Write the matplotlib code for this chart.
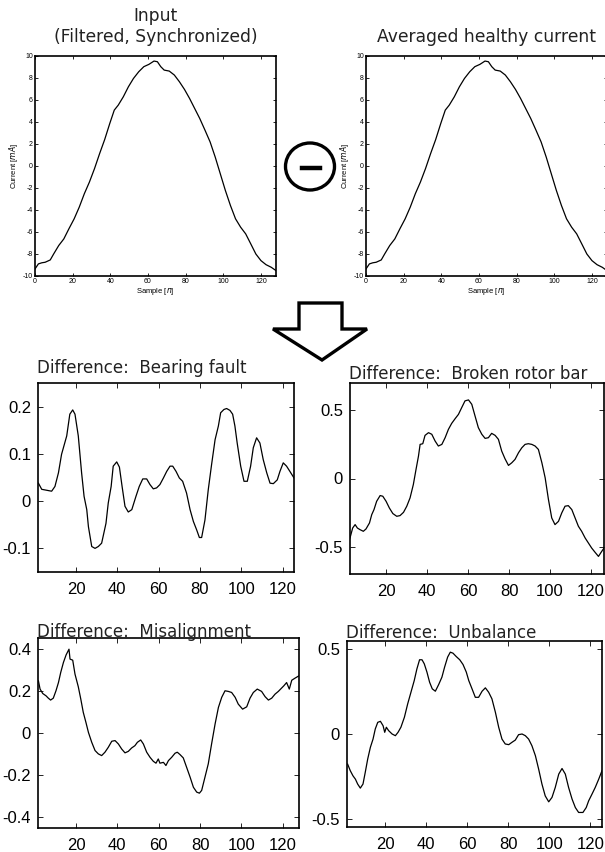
import matplotlib
matplotlib.use("Agg")
import matplotlib.pyplot as plt
from matplotlib.patches import Polygon, Ellipse
from matplotlib.lines import Line2D

# input / averaged healthy current
input_x = [0, 1.8, 3.6, 5.4, 8.1, 9.9, 12.6, 15.3, 18, 20.8, 23.5, 26.2, 28.9, 31.6, 34.3,
           37, 39.7, 42.1, 44.2, 46.9, 49.6, 52.3, 55.1, 57.8, 60.5, 63.2, 65, 66.8, 68.6,
           71.3, 74, 76.7, 79.4, 82.1, 84.8, 87.5, 90.3, 93, 95.7, 98.4, 101.1, 103.8,
           106.5, 109.2, 111.9, 114.6, 117.3, 120, 122.7, 125.5, 128]
input_y = [-9.36, -8.9, -8.8, -8.75, -8.54, -8.0, -7.23, -6.63, -5.71, -4.8, -3.74, -2.52,
           -1.46, -0.24, 1.12, 2.4, 3.86, 5.08, 5.53, 6.29, 7.2, 7.96, 8.57, 9.03, 9.24,
           9.54, 9.48, 9.03, 8.72, 8.63, 8.27, 7.66, 6.96, 6.14, 5.23, 4.32, 3.25, 2.19,
           0.82, -0.7, -2.22, -3.59, -4.8, -5.56, -6.17, -7.08, -8.0, -8.6, -8.97, -9.21,
           -9.51]
healthy_x = list(input_x)
healthy_y = list(input_y)

bearing_x = [1.8, 3.4, 5.8, 8.2, 9.8, 11.5, 13, 15.5, 17, 18.4, 19.5, 21.1, 22.7, 23.9, 25.2,
             26, 27.6, 29.2, 30.8, 32.4, 34.5, 35.6, 37, 38, 39.7, 41, 42.3, 43.7, 45.3, 47,
             49, 50.6, 52.3, 54.2, 55.8, 57.4, 59, 60.6, 62.3, 63.9, 65.5, 66.8, 68.4, 70,
             71.6, 73.5, 75.2, 76.8, 78.4, 79.7, 80.8, 82.4, 84, 85.6, 87.3, 88.9, 90, 91.6,
             92.9, 94.5, 95.8, 96.9, 98, 99.7, 101.3, 102.9, 104.5, 105.8, 107.4, 109, 110.6,
             112.3, 113.9, 115.5, 117.4, 118.7, 120.3, 121.9, 123.5, 125.5]
bearing_y = [0.038, 0.025, 0.023, 0.021, 0.031, 0.06, 0.099, 0.138, 0.184, 0.193, 0.184,
             0.138, 0.06, 0.01, -0.018, -0.054, -0.096, -0.1, -0.096, -0.089, -0.047,
             -0.004, 0.031, 0.074, 0.083, 0.072, 0.031, -0.011, -0.023, -0.018, 0.01,
             0.031, 0.047, 0.047, 0.035, 0.026, 0.028, 0.035, 0.049, 0.063, 0.074, 0.074,
             0.063, 0.049, 0.042, 0.017, -0.018, -0.043, -0.061, -0.077, -0.077, -0.04,
             0.024, 0.077, 0.13, 0.159, 0.187, 0.194, 0.196, 0.192, 0.184, 0.159, 0.123,
             0.074, 0.042, 0.042, 0.074, 0.113, 0.134, 0.123, 0.088, 0.06, 0.038, 0.037,
             0.045, 0.063, 0.081, 0.074, 0.063, 0.049]

rotor_x = [2.4, 3.7, 4.9, 6, 7.3, 8.9, 10.2, 11.9, 13, 14.1, 15.4, 17.1, 18.4, 20, 21.6,
           23.3, 25.2, 26.8, 28.5, 30.1, 31.7, 33.3, 34.6, 35.8, 36.6, 37.9, 39, 40.7,
           42.3, 43.9, 45.5, 47.2, 48.8, 50.4, 52, 53.7, 55.3, 56.9, 58.5, 60.2, 61.8,
           63.4, 65, 66.7, 68.3, 69.9, 71.5, 73.2, 74.8, 76.4, 78, 79.7, 81.3, 82.9, 84.6,
           86.2, 87.8, 89.4, 91.1, 92.7, 94.3, 96, 97.6, 99.2, 100.8, 102.4, 104.1, 105.7,
           107.3, 108.9, 110.6, 112.2, 113.8, 115.4, 117.1, 118.7, 120.3, 122, 123.6,
           125.2, 126.3]
rotor_y = [-0.436, -0.363, -0.338, -0.363, -0.375, -0.387, -0.37, -0.326, -0.265, -0.228,
           -0.167, -0.125, -0.13, -0.167, -0.216, -0.257, -0.277, -0.272, -0.248, -0.203,
           -0.142, -0.044, 0.066, 0.164, 0.25, 0.255, 0.316, 0.336, 0.324, 0.275, 0.238,
           0.25, 0.299, 0.36, 0.404, 0.439, 0.47, 0.52, 0.569, 0.576, 0.544, 0.458, 0.373,
           0.324, 0.294, 0.299, 0.331, 0.316, 0.287, 0.201, 0.145, 0.096, 0.115, 0.14,
           0.189, 0.225, 0.25, 0.255, 0.25, 0.238, 0.213, 0.115, 0.005, -0.154, -0.289,
           -0.338, -0.314, -0.252, -0.203, -0.199, -0.228, -0.289, -0.35, -0.387, -0.436,
           -0.473, -0.51, -0.542, -0.571, -0.534, -0.51]

misalign_x = [1.8, 2.6, 3.9, 5.5, 6.6, 7.7, 9, 10.3, 11.5, 12.6, 13.9, 15.2, 16.6, 17.1,
              18.4, 19.5, 21.1, 22.3, 23.5, 24.8, 26, 27.6, 29.2, 30.8, 32.4, 34, 35.6,
              37.3, 38.9, 40.5, 42.1, 43.7, 45.3, 46.9, 48.5, 49.7, 51.3, 52.6, 54.2, 55.8,
              57.4, 58.7, 59.8, 60.6, 62.3, 63.5, 64.7, 66.3, 67.9, 69, 70.3, 71.9, 73.5,
              75.2, 76.8, 78.4, 79.7, 80.8, 82.4, 84, 85.6, 87.3, 88.9, 90.5, 92.1, 93.7,
              95.3, 97, 98.5, 100.6, 102.6, 104.2, 105.8, 107.7, 109.8, 111.5, 113.1, 114.7,
              116.3, 117.9, 119.5, 120.6, 121.9, 123.2, 124.4, 126, 127.9]
misalign_y = [0.247, 0.208, 0.187, 0.176, 0.165, 0.156, 0.165, 0.2, 0.239, 0.287, 0.334,
              0.37, 0.397, 0.35, 0.345, 0.279, 0.219, 0.161, 0.098, 0.05, 0.003, -0.044,
              -0.083, -0.099, -0.107, -0.091, -0.068, -0.039, -0.036, -0.052, -0.076,
              -0.094, -0.087, -0.071, -0.06, -0.044, -0.033, -0.052, -0.091, -0.115, -0.134,
              -0.143, -0.123, -0.143, -0.139, -0.154, -0.131, -0.115, -0.096, -0.091, -0.102,
              -0.118, -0.162, -0.209, -0.257, -0.28, -0.285, -0.272, -0.209, -0.146, -0.052,
              0.043, 0.121, 0.169, 0.2, 0.197, 0.192, 0.169, 0.137, 0.113, 0.124, 0.165,
              0.192, 0.208, 0.197, 0.172, 0.156, 0.165, 0.184, 0.197, 0.213, 0.224, 0.239,
              0.208, 0.25, 0.26, 0.271]

unbalance_x = [1.6, 2.9, 4.2, 5.4, 6.5, 7.8, 9.1, 10.2, 11.4, 12.7, 14, 15.1, 16.3, 17.6,
               18.9, 19.7, 20.5, 21.6, 23.3, 24.9, 26.2, 27.6, 29.3, 30.9, 32.5, 34.1, 35.4,
               36.7, 37.9, 39, 40.3, 41.6, 42.9, 44.4, 46, 47.6, 48.9, 50.4, 51.7, 53, 54.6,
               56.3, 57.9, 59.5, 60.7, 62.3, 63.9, 65.5, 67.2, 68.8, 70.4, 72, 73.7, 75.3,
               76.9, 78.5, 80.2, 81.8, 83.4, 85, 86.7, 88.3, 89.9, 91.5, 93.2, 94.8, 96.4,
               98, 99.7, 101.3, 102.9, 104.6, 106.2, 107.8, 109.4, 111.1, 112.7, 114.3,
               116.4, 118, 119.2, 120.8, 122.4, 124.1, 125.7]
unbalance_y = [-0.178, -0.217, -0.247, -0.267, -0.296, -0.32, -0.296, -0.227, -0.148,
               -0.079, -0.03, 0.03, 0.069, 0.075, 0.049, 0.01, 0.04, 0.02, 0.0, -0.01, 0.01,
               0.04, 0.099, 0.178, 0.247, 0.316, 0.385, 0.439, 0.439, 0.415, 0.366, 0.306,
               0.267, 0.253, 0.292, 0.336, 0.395, 0.455, 0.484, 0.478, 0.458, 0.439, 0.411,
               0.366, 0.316, 0.267, 0.217, 0.217, 0.253, 0.273, 0.247, 0.208, 0.128, 0.04,
               -0.03, -0.059, -0.063, -0.049, -0.036, -0.004, 0.0, -0.01, -0.03, -0.069,
               -0.128, -0.208, -0.296, -0.366, -0.401, -0.375, -0.316, -0.237, -0.204,
               -0.237, -0.316, -0.385, -0.435, -0.464, -0.464, -0.435, -0.395, -0.356,
               -0.316, -0.267, -0.217]

W, H = 605, 852
fig = plt.figure(figsize=(W / 100, H / 100), dpi=100)


def px_axes(l, t, r, b):
    return fig.add_axes([l / W, 1 - b / H, (r - l) / W, (b - t) / H])


def fmt(v):
    return '%g' % v


TITLE_COLOR = '#222222'

# ---- top row: raw currents
top_ticks_y = list(range(-10, 11, 2))
for (l, r), x, y, title in [((35, 276), input_x, input_y, 'Input\n(Filtered, Synchronized)'),
                            ((366, 607), healthy_x, healthy_y, 'Averaged healthy current')]:
    ax = px_axes(l, 56, r, 276)
    ax.plot(x, y, color='black', lw=0.9)
    ax.set_xlim(0, 128)
    ax.set_ylim(-10, 10)
    ax.set_xticks(range(0, 121, 20))
    ax.set_yticks(top_ticks_y)
    ax.set_yticklabels([fmt(v) for v in top_ticks_y])
    ax.tick_params(direction='in', top=True, right=True, length=2.5, width=0.6,
                   labelsize=5, pad=1.5)
    for lab in ax.get_xticklabels() + ax.get_yticklabels():
        lab.set_family('Liberation Sans')
    ax.set_xlabel('Sample [$\\it{n}$]', fontsize=5.5, family='Liberation Sans', labelpad=1)
    ax.set_ylabel('Current [$\\it{mA}$]', fontsize=5.5, family='Liberation Sans', labelpad=2)
    ax.set_title(title, fontsize=12.3, family='DejaVu Sans', linespacing=1.2, pad=10,
                 color=TITLE_COLOR)
    for sp in ax.spines.values():
        sp.set_linewidth(1.2)

# ---- difference panels
panels = [
    ((38, 383, 294, 572), bearing_x, bearing_y, 'Difference:  Bearing fault',
     (1.6, 125.5), (-0.15, 0.25), [-0.1, 0, 0.1, 0.2], 7),
    ((350, 383, 604, 574), rotor_x, rotor_y, 'Difference:  Broken rotor bar',
     (2.4, 126.3), (-0.7, 0.7), [-0.5, 0, 0.5], 3),
    ((38, 638, 299, 828), misalign_x, misalign_y, 'Difference:  Misalignment',
     (1.6, 127.9), (-0.45, 0.45), [-0.4, -0.2, 0, 0.2, 0.4], 1),
    ((347, 641, 602, 827), unbalance_x, unbalance_y, 'Difference:  Unbalance',
     (1.3, 125.7), (-0.55, 0.55), [-0.5, 0, 0.5], 2),
]
for (l, t, r, b), x, y, title, xl, yl, yt, tpad in panels:
    ax = px_axes(l, t, r, b)
    ax.plot(x, y, color='black', lw=0.9)
    ax.set_xlim(*xl)
    ax.set_ylim(*yl)
    ax.set_xticks(range(20, 121, 20))
    ax.set_yticks(yt)
    ax.set_yticklabels([fmt(v) for v in yt])
    ax.tick_params(direction='in', top=True, right=True, length=3.5, width=0.6,
                   labelsize=12, pad=5)
    ax.tick_params(axis='x', pad=7)
    for lab in ax.get_xticklabels() + ax.get_yticklabels():
        lab.set_family('Liberation Sans')
    ax.set_title(title, loc='left', fontsize=12, family='DejaVu Sans', pad=tpad, x=-0.005,
                 color=TITLE_COLOR)
    for sp in ax.spines.values():
        sp.set_linewidth(1.2)

# ---- minus-in-circle and down arrow
fig.patches.append(Ellipse((310 / W, 1 - 166.5 / H), 49 / W, 47 / H, fill=False,
                           lw=2.4, edgecolor='black', transform=fig.transFigure))
fig.lines.append(Line2D([302 / W, 320 / W], [1 - 168 / H, 1 - 168 / H], lw=3.2,
                        color='black', transform=fig.transFigure))
arrow_px = [(299, 303), (342, 303), (342, 329), (367, 329), (322, 360), (273, 329), (299, 329)]
fig.patches.append(Polygon([(px / W, 1 - py / H) for px, py in arrow_px], closed=True,
                           fill=False, lw=2.4, edgecolor='black', joinstyle='miter',
                           transform=fig.transFigure))

fig.savefig('out.png', dpi=100)
